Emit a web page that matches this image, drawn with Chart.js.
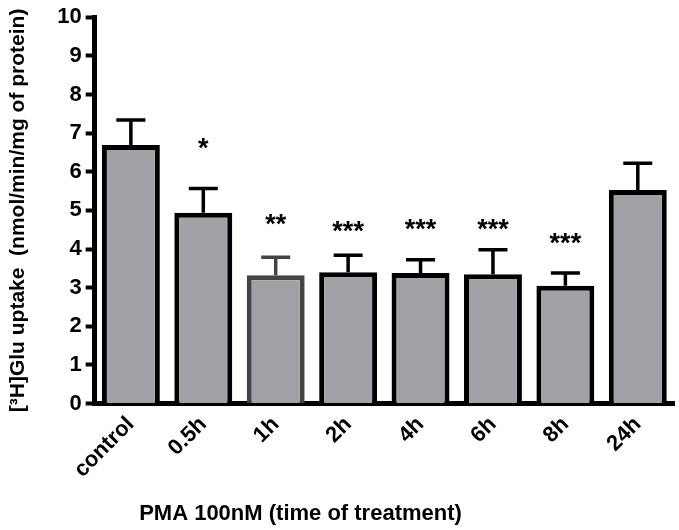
<!DOCTYPE html>
<html>
<head>
<meta charset="utf-8">
<script src="https://cdn.jsdelivr.net/npm/chart.js@4/dist/chart.umd.min.js"></script>
<style>
  html, body { margin: 0; padding: 0; background: #fff; }
  #wrap { width: 679px; height: 530px; }
</style>
</head>
<body>
<div id="wrap"><canvas id="uptakeChart" width="679" height="530"></canvas></div>
<script>
const categories = ["control", "0.5h", "1h", "2h", "4h", "6h", "8h", "24h"];
const uptake = [6.69, 4.94, 3.32, 3.40, 3.38, 3.35, 3.05, 5.53];
const errorTop = [7.34, 5.57, 3.79, 3.84, 3.72, 3.98, 3.38, 6.22];
const stars = ["", "*", "**", "***", "***", "***", "***", ""];
const starLevel = [0, 6.77, 4.81, 4.62, 4.68, 4.68, 4.32, 0];
const yTicks = [0, 1, 2, 3, 4, 5, 6, 7, 8, 9, 10];

const barBorders = ["#000", "#000", "#444", "#000", "#000", "#000", "#000", "#000"];

const errorBarPlugin = {
    id: "errorBars",
    afterDatasetsDraw(chart) {
        const ctx = chart.ctx;
        const x = chart.scales.x;
        const y = chart.scales.y;
        ctx.save();
        errorTop.forEach((top, i) => {
            const cx = x.getPixelForValue(i);
            const yBar = y.getPixelForValue(uptake[i]);
            const yTop = y.getPixelForValue(top);
            ctx.strokeStyle = barBorders[i];
            ctx.lineWidth = 3.5;
            ctx.beginPath();
            ctx.moveTo(cx, yBar);
            ctx.lineTo(cx, yTop);
            ctx.moveTo(cx - 14.5, yTop);
            ctx.lineTo(cx + 14.5, yTop);
            ctx.stroke();
        });
        // significance marks
        ctx.fillStyle = "#000";
        ctx.font = "bold 27px 'Liberation Sans', Arial, sans-serif";
        ctx.textAlign = "center";
        ctx.textBaseline = "alphabetic";
        stars.forEach((s, i) => {
            if (!s) return;
            ctx.fillText(s, x.getPixelForValue(i), y.getPixelForValue(starLevel[i]) + 15);
        });
        // x axis title
        ctx.font = "bold 22px 'Liberation Sans', Arial, sans-serif";
        ctx.textBaseline = "middle";
        ctx.fillText("PMA 100nM (time of treatment)", chart.width / 2 - 39, chart.chartArea.bottom + 110);
        ctx.restore();
    }
};

document.addEventListener("DOMContentLoaded", function () {
    const ctx = document.getElementById("uptakeChart").getContext("2d");
    new Chart(ctx, {
        type: "bar",
        data: {
            labels: categories,
            datasets: [{
                data: uptake,
                backgroundColor: "#a2a2a6",
                borderColor: barBorders,
                borderWidth: 5,
                borderSkipped: "bottom",
                barPercentage: 0.8,
                categoryPercentage: 1.0
            }]
        },
        options: {
            responsive: false,
            animation: false,
            layout: {
                padding: { left: 6, right: 5, top: 10, bottom: 39 }
            },
            plugins: {
                legend: { display: false },
                tooltip: { enabled: false }
            },
            scales: {
                x: {
                    grid: { display: false, drawTicks: false },
                    border: { display: true, color: "#000", width: 5 },
                    ticks: {
                        color: "#000",
                        font: { family: "'Liberation Sans', Arial, sans-serif", size: 22, weight: "bold" },
                        minRotation: 45,
                        maxRotation: 45,
                        padding: 8
                    }
                },
                y: {
                    min: 0,
                    max: 10,
                    afterBuildTicks(scale) {
                        scale.ticks = yTicks.map(v => ({ value: v }));
                    },
                    grid: {
                        drawOnChartArea: false,
                        drawTicks: true,
                        tickLength: 9,
                        tickWidth: 4,
                        tickColor: "#000"
                    },
                    border: { display: true, color: "#000", width: 5 },
                    ticks: {
                        color: "#000",
                        font: { family: "'Liberation Sans', Arial, sans-serif", size: 22, weight: "bold" },
                        padding: 4
                    },
                    title: {
                        display: true,
                        text: "[³H]Glu uptake  (nmol/min/mg of protein)",
                        color: "#000",
                        font: { family: "'Liberation Sans', Arial, sans-serif", size: 21, weight: "bold" },
                        padding: { top: 0, bottom: 22 }
                    }
                }
            }
        },
        plugins: [errorBarPlugin]
    });
});
</script>
</body>
</html>
